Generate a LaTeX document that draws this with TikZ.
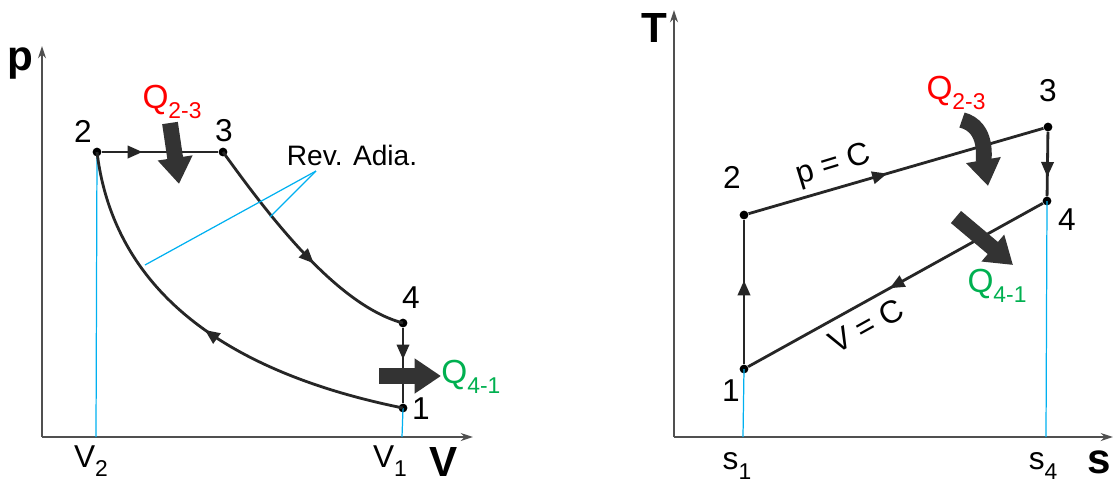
\documentclass[tikz,border=0pt]{standalone}
\usepackage{fontspec}
\setmainfont{Liberation Sans}
\usepackage{tikz}
\usetikzlibrary{arrows.meta, decorations.markings}
\usepackage{xcolor}
\definecolor{cline}{RGB}{38, 38, 38}
\definecolor{caxis}{RGB}{80, 80, 80}
\definecolor{cheat}{RGB}{51, 51, 51}
\definecolor{cguide}{RGB}{0, 176, 240}
\definecolor{cin}{RGB}{255, 0, 0}
\definecolor{cout}{RGB}{0, 176, 80}
\newcommand{\lowidx}[1]{\raisebox{-0.3em}{\fontsize{13}{13}\selectfont #1}}

\begin{document}
\begin{tikzpicture}[
  x=0.02cm, y=-0.02cm,
  axis/.style={caxis, line width=1.2pt, -{Stealth[length=7pt, width=4.5pt]}},
  proc/.style={cline, line width=1.6pt},
  midarr/.style={postaction={decorate}, decoration={markings,
                 mark=at position #1 with {\arrow{Triangle[length=8.5pt, width=7pt]}}}},
  dot/.style={circle, fill=black, inner sep=0pt, minimum size=5pt},
  guide/.style={cguide, line width=0.7pt},
  heat/.style={cheat, line width=9pt, -{Triangle[length=15pt, width=19pt]}},
  numlbl/.style={font=\fontsize{18}{18}\selectfont},
  axlbl/.style={font=\fontsize{24}{24}\selectfont\bfseries},
  vallbl/.style={font=\fontsize{18}{18}\selectfont},
  qin/.style={font=\fontsize{19}{19}\selectfont, text=cin, inner sep=0pt},
  qout/.style={font=\fontsize{19}{19}\selectfont, text=cout, inner sep=0pt},
  note/.style={font=\fontsize{16}{16}\selectfont}
]
\useasboundingbox (0,0) rectangle (1113,484);

% ---------- p-V diagram ----------
\coordinate (pvo) at (42,437);
\coordinate (pvy) at (42,46);
\coordinate (pvx) at (473,437);
\draw[axis] (pvo) -- (pvy);
\draw[axis] (pvo) -- (pvx);
\node[axlbl] (lp) at (20,63) {p};
\node[axlbl] (lv) at (444,462) {V};

% states
\node[dot] (a1) at (403,408) {};
\node[dot] (a2) at (97,152) {};
\node[dot] (a3) at (223,152) {};
\node[dot] (a4) at (403,323) {};
\node[numlbl] (la1) at (421,409) {1};
\node[numlbl] (la2) at (83,131) {2};
\node[numlbl] (la3) at (224,131) {3};
\node[numlbl] (la4) at (411,298) {4};

% volume guides
\coordinate (bv2) at (96,437);
\coordinate (bv1) at (402,437);
\draw[guide] (a2.center) -- (bv2);
\draw[guide] (a1.center) -- (bv1);
\node[vallbl] (lv2) at (91,461) {V\lowidx{2}};
\node[vallbl] (lv1) at (390,461) {V\lowidx{1}};

% cycle
\draw[proc, midarr=0.35] (a2) -- (a3);
\draw[proc, midarr=0.57] (a3.center) .. controls (265,210) and (335,305) .. (a4.center);
\draw[proc, midarr=0.42] (a4) -- (a1);
\draw[proc, midarr=0.5] (a1.center) .. controls (240,375) and (115,300) .. (a2.center);

% heat
\coordinate (qa0) at (170,123);
\coordinate (qa1) at (179,184);
\draw[heat] (qa0) -- (qa1);
\node[qin] (lqa) at (172,102) {Q\lowidx{2-3}};
\coordinate (qb0) at (379,376);
\coordinate (qb1) at (441,376);
\draw[heat] (qb0) -- (qb1);
\node[qout, anchor=west] (lqb) at (441,377) {Q\lowidx{4-1}};

% reversible adiabats
\node[note] (rev) at (352,155) {Rev. Adia.};
\coordinate (revp) at (316,171);
\coordinate (reva) at (145,265);
\coordinate (revb) at (270,217);
\draw[guide] (revp) -- (reva);
\draw[guide] (revp) -- (revb);

% ---------- T-s diagram ----------
\coordinate (tso) at (674,437);
\coordinate (tsy) at (674,10);
\coordinate (tsx) at (1113,437);
\draw[axis] (tso) -- (tsy);
\draw[axis] (tso) -- (tsx);
\node[axlbl] (lt) at (654,28) {T};
\node[axlbl] (ls) at (1099,462) {s};

% states
\node[dot] (b1) at (744,369) {};
\node[dot] (b2) at (744,215) {};
\node[dot] (b3) at (1048,127) {};
\node[dot] (b4) at (1047,201) {};
\node[numlbl] (lb1) at (731,391) {1};
\node[numlbl] (lb2) at (732,177) {2};
\node[numlbl] (lb3) at (1048,91) {3};
\node[numlbl] (lb4) at (1067,220) {4};

% entropy guides
\coordinate (bs1) at (743,437);
\coordinate (bs4) at (1046,437);
\draw[guide] (b1.center) -- (bs1);
\draw[guide] (b4.center) -- (bs4);
\node[vallbl] (ls1) at (737,466) {s\lowidx{1}};
\node[vallbl] (ls4) at (1043,466) {s\lowidx{4}};

% cycle
\draw[proc, midarr=0.58] (b1) -- (b2);
\draw[proc, midarr=0.47] (b2) -- (b3);
\draw[proc, midarr=0.7] (b3) -- (b4);
\draw[proc, midarr=0.52] (b4) -- (b1);
\node[vallbl, rotate=17] (pc) at (834,166) {p = C};
\node[vallbl, rotate=29] (vc) at (866,326) {V = C};

% heat
\coordinate (qc0) at (962,120);
\coordinate (qc1) at (988,186);
\draw[heat] (qc0) to[out=-15, in=100] (qc1);
\node[qin] (lqc) at (956,93) {Q\lowidx{2-3}};
\coordinate (qd0) at (956,217);
\coordinate (qd1) at (1013,265);
\draw[heat] (qd0) -- (qd1);
\node[qout] (lqd) at (997,286) {Q\lowidx{4-1}};

\end{tikzpicture}
\end{document}
